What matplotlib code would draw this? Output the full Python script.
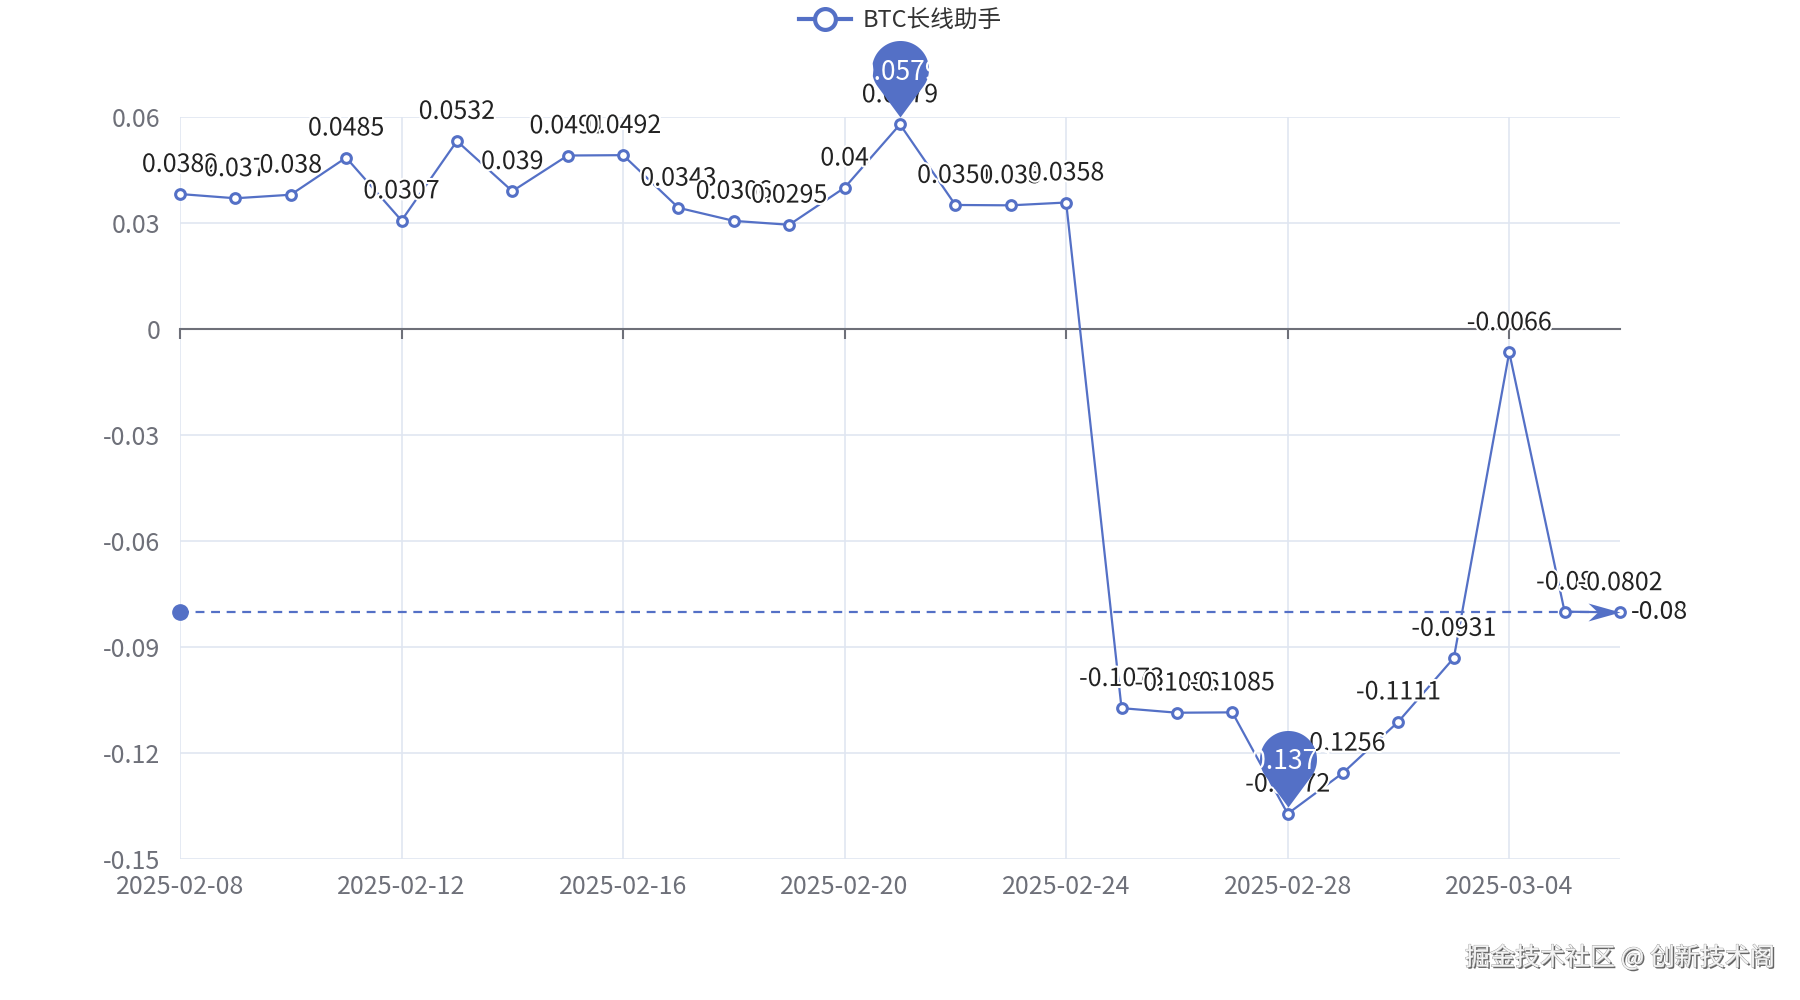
import numpy as np
import matplotlib
matplotlib.use('Agg')
from matplotlib import pyplot as plt
from matplotlib.path import Path
from matplotlib.lines import Line2D
import matplotlib.patheffects as pe

plt.rcParams['font.family'] = ['Noto Sans CJK SC', 'DejaVu Sans']

# data
dates = ['2025-02-08', '2025-02-09', '2025-02-10', '2025-02-11', '2025-02-12',
         '2025-02-13', '2025-02-14', '2025-02-15', '2025-02-16', '2025-02-17',
         '2025-02-18', '2025-02-19', '2025-02-20', '2025-02-21', '2025-02-22',
         '2025-02-23', '2025-02-24', '2025-02-25', '2025-02-26', '2025-02-27',
         '2025-02-28', '2025-03-01', '2025-03-02', '2025-03-03', '2025-03-04',
         '2025-03-05', '2025-03-06']
values = [0.0382, 0.037, 0.038, 0.0485, 0.0307,
          0.0532, 0.039, 0.0491, 0.0492, 0.0343,
          0.0306, 0.0295, 0.04, 0.0579, 0.0351,
          0.035, 0.0358, -0.1073, -0.1086, -0.1085,
          -0.1372, -0.1256, -0.1111, -0.0931, -0.0066,
          -0.08, -0.0802]
mark_line = -0.08
series_name = 'BTC长线助手'
watermark = '掘金技术社区 @ 创新技术阁'

y_ticks = [-0.15, -0.12, -0.09, -0.06, -0.03, 0, 0.03, 0.06]

blue = '#5470c6'
grid_c = '#E0E6F1'
axis_c = '#6E7079'


def pin_marker():
  # teardrop with tip near origin, body above (pixel units)
  r, c, gap = 28.5, 55.0, 7.0
  d = c - gap
  beta = np.arccos(r / d)
  a0 = -np.pi / 2 + beta
  a1 = 3 * np.pi / 2 - beta
  ang = np.linspace(a0, a1, 60)
  arc = np.column_stack([r * np.cos(ang), c + r * np.sin(ang)])
  verts = np.vstack([[0, gap], arc, [0, gap]])
  codes = [Path.MOVETO] + [Path.LINETO] * (len(verts) - 2) + [Path.CLOSEPOLY]
  return Path(verts, codes), c + r, c


def arrow_marker():
  L, W = 32.0, 18.0
  verts = [[0, 0], [-L, W / 2], [-0.7 * L, 0], [-L, -W / 2], [0, 0]]
  codes = [Path.MOVETO, Path.LINETO, Path.LINETO, Path.LINETO, Path.CLOSEPOLY]
  return Path(verts, codes), L


def plot():
  fig = plt.figure(figsize=(18, 10), dpi=100)
  ax = fig.add_axes([0.1, 0.141, 0.8, 0.742])

  x = np.arange(len(dates))
  ax.set_xlim(0, len(dates) - 1)
  ax.set_ylim(-0.15, 0.06)

  # grid
  ax.set_yticks(y_ticks)
  ax.set_yticklabels([f'{v:g}' for v in y_ticks])
  xt = list(range(0, len(dates), 4))
  ax.set_xticks(xt)
  ax.grid(True, color=grid_c, linewidth=1.2, zorder=0)
  ax.set_axisbelow(True)
  for s in ['top', 'right', 'left']:
    ax.spines[s].set_visible(False)
  ax.spines['bottom'].set_position(('data', 0))
  ax.spines['bottom'].set_color(axis_c)
  ax.spines['bottom'].set_linewidth(1.5)
  ax.tick_params(axis='x', length=7, width=1.5, color=axis_c, labelbottom=False)
  ax.tick_params(axis='y', length=0, pad=14, labelsize=18, labelcolor=axis_c)

  sec = ax.secondary_xaxis('bottom')
  sec.set_xticks(xt)
  sec.set_xticklabels([dates[i] for i in xt])
  sec.tick_params(length=0, pad=11, labelsize=18, labelcolor=axis_c)
  sec.spines['bottom'].set_visible(False)

  # series
  ax.plot(x, values, color=blue, linewidth=1.6, marker='o', markersize=7,
          markerfacecolor='white', markeredgecolor=blue, markeredgewidth=2.2,
          zorder=4, clip_on=False)

  # value labels
  for xi, v in zip(x, values):
    ax.annotate(f'{v:g}', (xi, v), xytext=(0, 21), textcoords='offset points',
                ha='center', va='center', fontsize=18, color='#222222', zorder=5,
                path_effects=[pe.withStroke(linewidth=3, foreground='white')])

  # mark line
  ax.plot([x[0], x[-1]], [mark_line, mark_line], color=blue, linewidth=1.6,
          linestyle=(0, (4, 3)), zorder=3, clip_on=False)
  ax.plot([x[0]], [mark_line], 'o', color=blue, markersize=11, zorder=6, clip_on=False)
  apath, alen = arrow_marker()
  ax.plot([x[-1]], [mark_line], marker=apath, markersize=2 * alen * 0.72,
          color=blue, markeredgewidth=0, linestyle='none', zorder=6, clip_on=False)
  ax.annotate(f'{mark_line:g}', (x[-1], mark_line), xytext=(8, 0),
              textcoords='offset points', ha='left', va='center',
              fontsize=18, color='#222222', zorder=6)

  # max / min pins
  ppath, ptop, pc = pin_marker()
  for i in [int(np.argmax(values)), int(np.argmin(values))]:
    ax.plot([x[i]], [values[i]], marker=ppath, markersize=2 * ptop * 0.72,
            color=blue, markeredgewidth=0, linestyle='none', zorder=7, clip_on=False)
    ax.annotate(f'{values[i]:g}', (x[i], values[i]), xytext=(0, (pc - 3) * 0.72),
                textcoords='offset points', ha='center', va='center',
                fontsize=19, color='white', zorder=8)

  # legend
  h = Line2D([], [], color=blue, linewidth=3, marker='o', markersize=15,
             markerfacecolor='white', markeredgecolor=blue, markeredgewidth=3)
  fig.legend([h], [series_name], loc='center', bbox_to_anchor=(0.5, 0.979),
             frameon=False, fontsize=17, handlelength=2.2, handletextpad=0.5,
             labelcolor='#333333')

  # watermark
  fig.text(0.986, 0.042, watermark, ha='right', va='center', fontsize=18,
           color='#f4f4f4',
           path_effects=[pe.withSimplePatchShadow(offset=(1.2, -1.2),
                                                  shadow_rgbFace='#555555', alpha=0.9),
                         pe.Stroke(linewidth=0.6, foreground='#9a9a9a'),
                         pe.Normal()])

  fig.savefig('out.png', dpi=100, facecolor='white')


if __name__ == '__main__':
  plot()
